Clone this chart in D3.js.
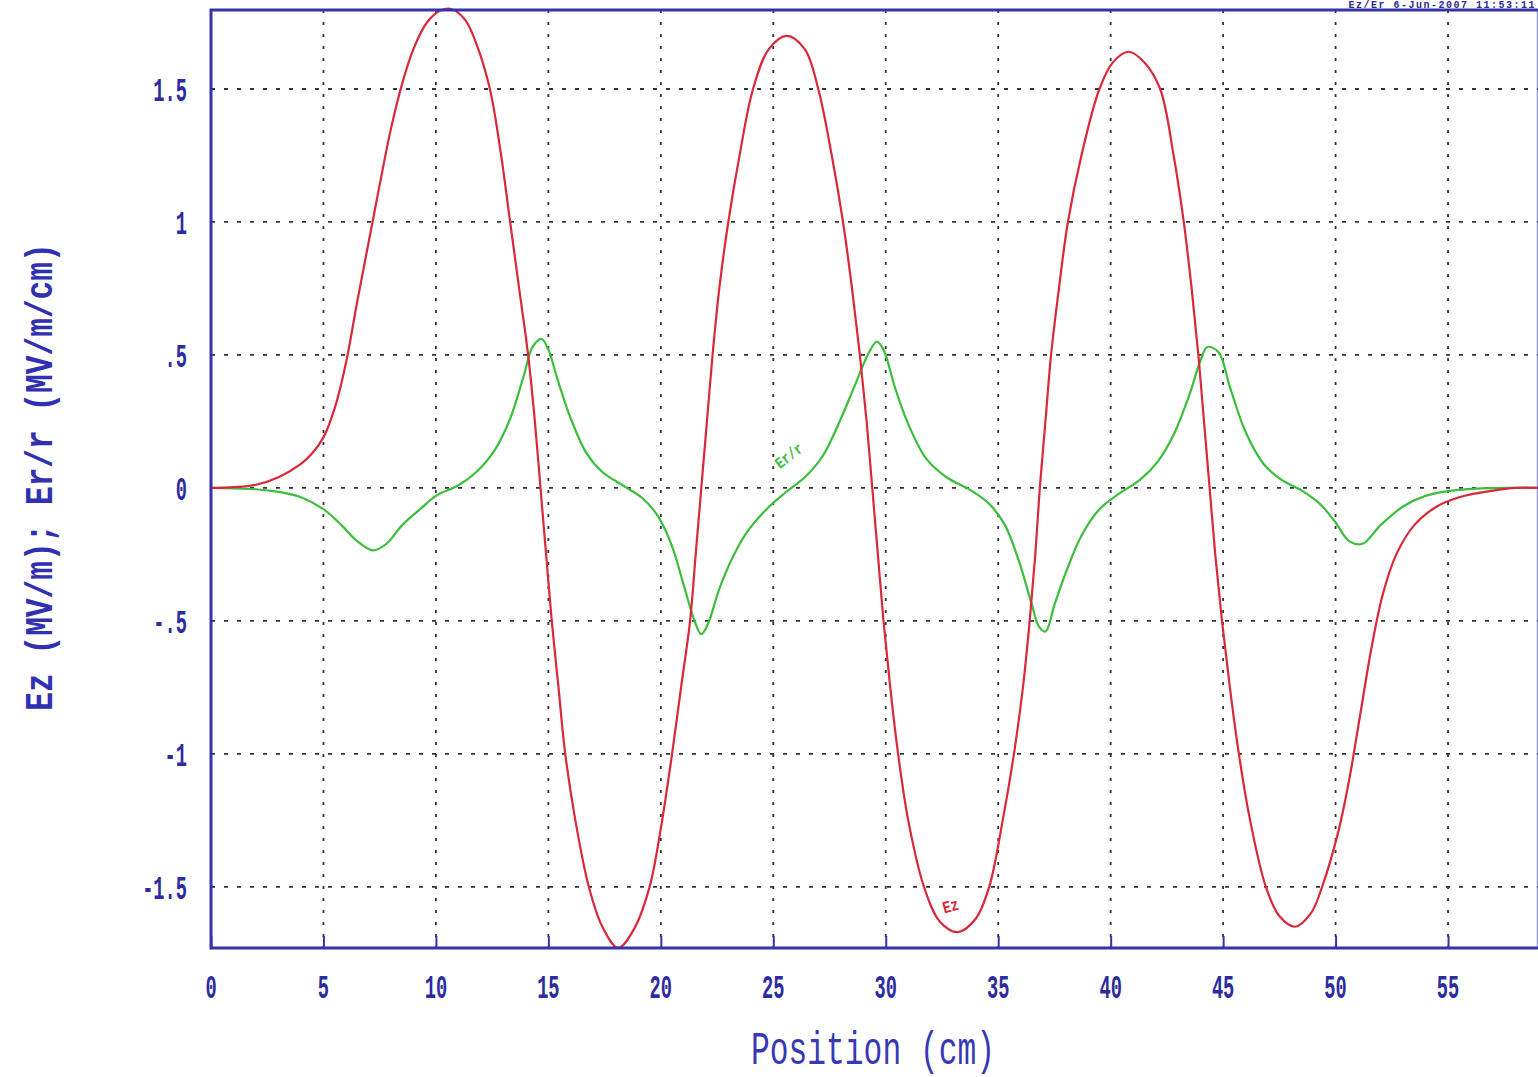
<!DOCTYPE html>
<html>
<head>
<meta charset="utf-8">
<script src="https://cdn.jsdelivr.net/npm/d3@7"></script>
<style>
  html, body { margin: 0; padding: 0; background: #ffffff; }
  svg { display: block; }
</style>
</head>
<body>
<svg id="chart" width="1538" height="1077"></svg>
<script>
// Longitudinal field Ez (MV/m) versus position (cm)
const ezPos = [0,1,2,3,4,4.5,5,5.5,6,6.5,7,7.5,8,8.5,9.0,9.6,10.2,10.7,11.3,11.8,12.4,12.9,13.3,13.7,14.1,14.4,14.65,14.9,15.15,15.45,15.75,16.2,16.8,17.4,18.1,18.8,19.5,20.0,20.5,20.9,21.3,21.55,21.8,22.05,22.3,22.6,23.0,23.5,24.1,24.8,25.6,26.4,27.0,27.6,28.1,28.5,28.85,29.15,29.4,29.65,29.9,30.2,30.55,31.0,31.7,32.4,33.2,34.0,34.6,35.2,35.7,36.1,36.4,36.65,36.85,37.1,37.35,37.7,38.1,38.7,39.5,40.1,40.8,41.5,42.2,42.8,43.25,43.6,43.9,44.15,44.4,44.65,44.95,45.3,45.7,46.2,46.9,47.5,48.2,48.9,49.4,50.1,50.6,51.1,51.6,52.1,52.7,53.5,54.5,55.5,57,58,59];
const ezVal = [0,0.003,0.012,0.04,0.09,0.13,0.19,0.3,0.47,0.7,0.92,1.14,1.35,1.52,1.65,1.75,1.795,1.80,1.76,1.67,1.5,1.25,1.0,0.75,0.5,0.25,0,-0.25,-0.5,-0.75,-1.0,-1.25,-1.5,-1.65,-1.73,-1.66,-1.5,-1.28,-1.0,-0.75,-0.5,-0.25,0,0.25,0.5,0.75,1.0,1.25,1.5,1.65,1.70,1.65,1.5,1.25,1.0,0.75,0.5,0.25,0,-0.25,-0.5,-0.75,-1.0,-1.25,-1.5,-1.63,-1.67,-1.62,-1.5,-1.25,-1.0,-0.75,-0.5,-0.25,0,0.25,0.5,0.75,1.0,1.25,1.5,1.6,1.64,1.6,1.5,1.25,1.0,0.75,0.5,0.25,0,-0.25,-0.5,-0.75,-1.0,-1.25,-1.5,-1.61,-1.65,-1.6,-1.5,-1.3,-1.1,-0.85,-0.6,-0.4,-0.25,-0.14,-0.07,-0.035,-0.01,0,0];

// Radial field gradient Er/r (MV/m/cm) versus position (cm)
const erPos = [0,2,3,4,5,5.8,6.5,7.2,7.8,8.5,9.3,10,11,11.8,12.6,13.3,13.9,14.3,14.7,15.0,15.4,16.0,16.7,17.4,18.3,19.2,19.9,20.5,21.0,21.5,21.8,22.1,22.6,23.2,23.8,24.7,25.5,26.4,27.2,27.9,28.6,29.2,29.6,29.9,30.4,31.0,31.8,32.7,33.8,34.6,35.3,35.9,36.5,36.8,37.1,37.5,38.0,38.7,39.5,40.4,41.3,42.1,42.8,43.5,44.0,44.3,44.8,45.3,46.0,46.8,47.6,48.5,49.3,50.0,50.6,51.2,52.0,53.0,54,55,56.5,58,59];
const erVal = [0,-0.005,-0.015,-0.035,-0.08,-0.14,-0.2,-0.235,-0.21,-0.14,-0.08,-0.03,0.01,0.06,0.14,0.26,0.42,0.53,0.56,0.52,0.41,0.26,0.13,0.06,0.01,-0.04,-0.11,-0.22,-0.36,-0.5,-0.55,-0.51,-0.38,-0.26,-0.17,-0.08,-0.02,0.04,0.12,0.24,0.38,0.5,0.55,0.52,0.38,0.24,0.11,0.04,-0.01,-0.06,-0.14,-0.27,-0.44,-0.52,-0.54,-0.44,-0.32,-0.18,-0.08,-0.02,0.03,0.1,0.2,0.35,0.48,0.53,0.51,0.38,0.21,0.09,0.03,-0.01,-0.06,-0.13,-0.2,-0.21,-0.14,-0.07,-0.03,-0.012,-0.002,0,0];

const xTicks = [0,5,10,15,20,25,30,35,40,45,50,55];
const xTickLabels = ["0","5","10","15","20","25","30","35","40","45","50","55"];
const yTicks = [-1.5,-1,-0.5,0,0.5,1,1.5];
const yTickLabels = ["-1.5","-1","-.5","0",".5","1","1.5"];

const xLabel = "Position (cm)";
const yLabel = "Ez (MV/m); Er/r (MV/m/cm)";
const headerText = "Ez/Er   6-Jun-2007   11:53:11";

const plot = { left: 211, right: 1538, top: 10, bottom: 948 };

const svg = d3.select("#chart");
const x = d3.scaleLinear().domain([0, 59]).range([plot.left, plot.right]);
const y = d3.scaleLinear().domain([-1.73, 1.797]).range([plot.bottom, plot.top]);

const frameColor = "#3434a8";
const textColor = "#2c2ca0";
const monoFont = "'Liberation Mono', 'DejaVu Sans Mono', monospace";

// dotted grid
const grid = svg.append("g");
grid.selectAll("line.v").data(xTicks.filter(d => d > 0)).join("line")
  .attr("x1", d => x(d)).attr("x2", d => x(d))
  .attr("y1", plot.top).attr("y2", plot.bottom)
  .attr("stroke", "#33333f").attr("stroke-width", 1.8)
  .attr("stroke-dasharray", "3,9");
grid.selectAll("line.h").data(yTicks).join("line")
  .attr("x1", plot.left).attr("x2", plot.right)
  .attr("y1", d => y(d)).attr("y2", d => y(d))
  .attr("stroke", "#33333f").attr("stroke-width", 1.8)
  .attr("stroke-dasharray", "4,9");

// curves
const line = d3.line().x(d => x(d[0])).y(d => y(d[1])).curve(d3.curveCatmullRom.alpha(0.5));
const ezData = ezPos.map((p, i) => [p, ezVal[i]]);
const erData = erPos.map((p, i) => [p, erVal[i]]);

svg.append("path").datum(erData).attr("d", line)
  .attr("fill", "none").attr("stroke", "#3dbd3d").attr("stroke-width", 2.2);
svg.append("path").datum(ezData).attr("d", line)
  .attr("fill", "none").attr("stroke", "#d9283a").attr("stroke-width", 2.2);

// curve labels
svg.append("text").attr("transform", `translate(${x(25.3)},${y(0.07)}) rotate(-38) scale(0.8,1)`)
  .attr("font-family", monoFont).attr("font-weight", "bold").attr("font-size", 16)
  .attr("fill", "#3dbd3d").text("Er/r");
svg.append("text").attr("transform", `translate(${x(32.6)},${y(-1.6)}) rotate(-15) scale(0.8,1)`)
  .attr("font-family", monoFont).attr("font-weight", "bold").attr("font-size", 17)
  .attr("fill", "#d9283a").text("Ez");

// frame
svg.append("path")
  .attr("d", `M${plot.right},${plot.top} H${plot.left} V${plot.bottom} H${plot.right}`)
  .attr("fill", "none").attr("stroke", frameColor).attr("stroke-width", 3);
svg.append("line").attr("x1", plot.right - 0.5).attr("x2", plot.right - 0.5)
  .attr("y1", plot.top).attr("y2", plot.bottom)
  .attr("stroke", frameColor).attr("stroke-width", 1.5).attr("opacity", 0.5);

// bottom axis: ticks pointing inward, tall narrow labels
const xAxis = d3.axisBottom(x).tickValues(xTicks).tickSizeInner(-12).tickSizeOuter(0)
  .tickFormat("");
const gx = svg.append("g").attr("transform", `translate(0,${plot.bottom})`).call(xAxis);
gx.select(".domain").remove();
gx.selectAll(".tick line").attr("stroke", frameColor).attr("stroke-width", 2);

svg.append("g").selectAll("text").data(xTicks).join("text")
  .attr("transform", d => `translate(${x(d)},998) scale(0.55,1)`)
  .attr("text-anchor", "middle")
  .attr("font-family", monoFont).attr("font-weight", "bold").attr("font-size", 34)
  .attr("fill", textColor)
  .text((d, i) => xTickLabels[i]);

// left axis labels
svg.append("g").selectAll("text").data(yTicks).join("text")
  .attr("transform", d => `translate(187,${y(d) + 12}) scale(0.55,1)`)
  .attr("text-anchor", "end")
  .attr("font-family", monoFont).attr("font-weight", "bold").attr("font-size", 34)
  .attr("fill", textColor)
  .text((d, i) => yTickLabels[i]);

// axis titles
svg.append("text").attr("transform", "translate(873,1064) scale(0.68,1)")
  .attr("text-anchor", "middle")
  .attr("font-family", monoFont).attr("font-size", 46)
  .attr("fill", "#3838b4").text(xLabel);
svg.append("text").attr("transform", "translate(52,477) rotate(-90) scale(0.82,1)")
  .attr("text-anchor", "middle")
  .attr("font-family", monoFont).attr("font-weight", "bold").attr("font-size", 38)
  .attr("fill", "#3030b0").text(yLabel);

// run header above the frame
svg.append("text").attr("x", 1536).attr("y", 8).attr("text-anchor", "end")
  .attr("font-family", monoFont).attr("font-weight", "bold").attr("font-size", 10)
  .attr("letter-spacing", 1.5)
  .attr("fill", "#2c2c90").text(headerText);
</script>
</body>
</html>
